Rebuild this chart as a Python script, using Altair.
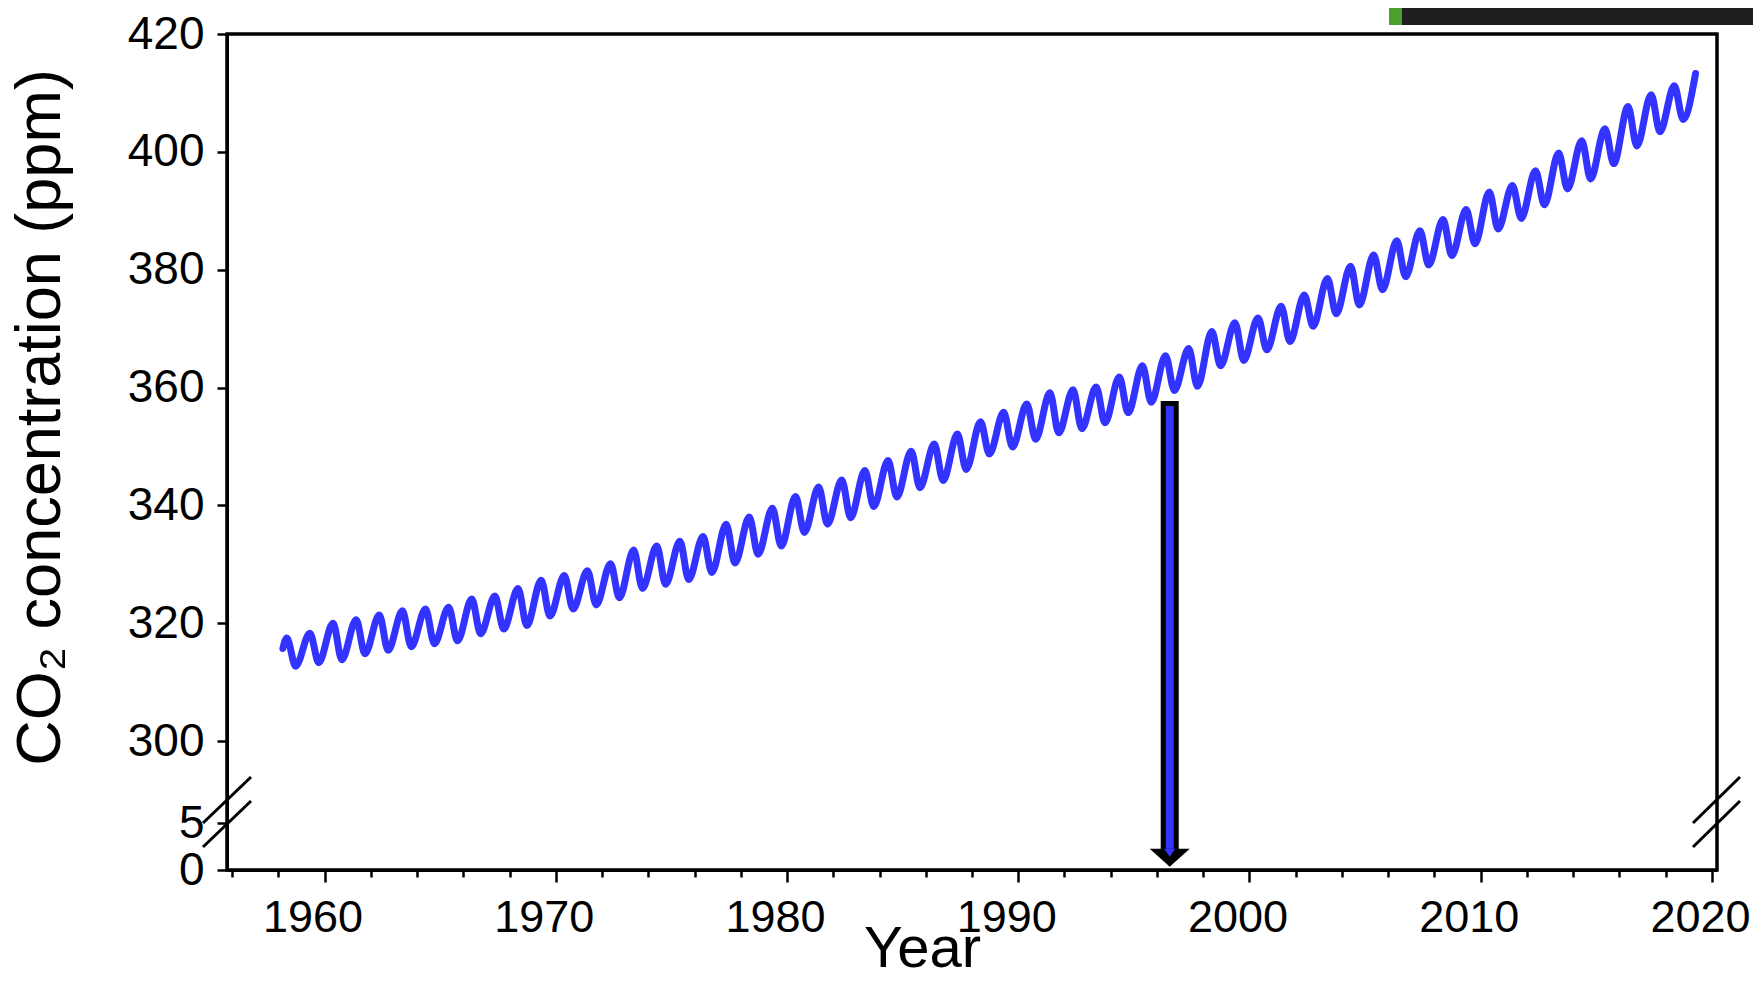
import altair as alt
import pandas as pd

# ---- data (Mauna Loa CO2, ppm) ----
years = list(range(1958, 2019))
peaks = [317.5, 318.3, 320.0, 320.6, 321.4, 322.1, 322.4, 322.7, 324.1, 324.6,
         325.9, 327.3, 328.1, 328.9, 330.1, 332.4, 333.1, 333.9, 334.7, 336.8,
         338.0, 339.5, 341.5, 343.1, 344.3, 345.9, 347.6, 349.2, 350.4, 352.1,
         354.2, 355.8, 357.2, 359.1, 359.6, 360.1, 361.8, 363.7, 365.4, 366.6,
         369.5, 371.0, 371.8, 373.8, 375.7, 378.5, 380.6, 382.5, 384.9, 386.6,
         388.5, 390.2, 393.2, 394.3, 396.8, 399.8, 401.9, 403.9, 407.7, 409.7,
         411.2]
troughs = [312.7, 313.3, 313.8, 314.8, 315.4, 316.0, 316.5, 317.0, 318.2, 319.0,
           319.6, 321.2, 322.4, 323.1, 324.3, 325.9, 326.6, 327.4, 328.6, 330.2,
           331.7, 333.1, 335.4, 336.8, 337.9, 339.8, 341.4, 343.0, 344.2, 346.1,
           348.7, 349.9, 351.2, 352.3, 353.0, 354.0, 355.7, 357.5, 359.5, 360.2,
           363.7, 364.6, 366.4, 367.8, 370.4, 372.5, 374.0, 376.6, 378.8, 380.8,
           382.4, 384.4, 386.9, 388.7, 391.0, 393.7, 395.4, 398.0, 401.0, 403.4,
           405.5]
first_point = (1958.2, 315.7)
last_point = (2019.29, 413.3)
peak_month = 0.37    # mid-May
trough_month = 0.75  # late September / October

x_ticks = list(range(1956, 2021, 2))
y_ticks = [0, 5, 300, 320, 340, 360, 380, 400, 420]

arrow_year = 1996.55
arrow_top = 357.3
arrow_bottom = 1.5
arrow_tip = 0.35

BLUE = "#3333FF"
FONT = "Liberation Sans"

rows = [first_point]
for y, p, t in zip(years, peaks, troughs):
    rows.append((y + peak_month, p))
    rows.append((y + trough_month, t))
rows.append(last_point)
df = pd.DataFrame(rows, columns=["year", "co2"])

xscale = alt.Scale(domain=[1956, 2020], nice=False, zero=False)
yscale = alt.Scale(domain=[0, 5, 300, 420], range=[836, 789, 707, 0], nice=False, zero=False)

xaxis = alt.Axis(
    values=x_ticks, format="d",
    labelExpr="datum.value % 10 === 0 ? datum.label : ''",
    labelFontSize=45, labelFont=FONT, labelColor="black", labelPadding=13,
    labelFlush=False, labelOverlap=False, labelOffset=-12,
    tickSize={"condition": {"test": "datum.value % 10 === 0", "value": 12}, "value": 7},
    tickWidth=2.5, tickColor="black", domainColor="black", domainWidth=3, grid=False,
    title="Year", titleFontSize=58, titleFont=FONT, titleFontWeight="normal", titleColor="black",
    titleX=695, titleY=96, titleAlign="center", titleBaseline="alphabetic",
)
yaxis = alt.Axis(
    values=y_ticks, format="d",
    labelFontSize=46, labelFont=FONT, labelColor="black", labelPadding=13,
    labelFlush=False, labelOverlap=False,
    tickSize=10, tickWidth=2.5, tickColor="black", domainColor="black", domainWidth=3, grid=False,
    title="CO₂ concentration (ppm)", titleFontSize=63, titleFont=FONT, titleFontWeight="normal",
    titleColor="black", titleAngle=270, titleX=-168, titleY=383, titleAlign="center",
    titleBaseline="alphabetic",
)

line = alt.Chart(df).mark_line(
    color=BLUE, strokeWidth=7, interpolate="monotone", strokeJoin="round", strokeCap="round"
).encode(
    x=alt.X("year:Q", scale=xscale, axis=xaxis),
    y=alt.Y("co2:Q", scale=yscale, axis=yaxis),
)

arrow_df = pd.DataFrame({"year": [arrow_year], "top": [arrow_top], "bottom": [arrow_bottom], "tip": [arrow_tip]})
shaft = alt.Chart(arrow_df).mark_bar(size=13, fill=BLUE, stroke="black", strokeWidth=5).encode(
    x=alt.X("year:Q", scale=xscale), y=alt.Y("top:Q", scale=yscale), y2="bottom:Q"
)
head = alt.Chart(arrow_df).mark_point(
    shape="M-1,-0.9L1,-0.9L0,0Z", size=1600, filled=True, color="black", opacity=1
).encode(x=alt.X("year:Q", scale=xscale), y=alt.Y("tip:Q", scale=yscale))
head_inner = alt.Chart(arrow_df).mark_point(
    shape="M-0.28,-0.9L0.28,-0.9L0,-0.5Z", size=1600, filled=True, color=BLUE, opacity=1
).encode(x=alt.X("year:Q", scale=xscale), y=alt.Y("tip:Q", scale=yscale))

one = pd.DataFrame({"a": [0]})


def slash(x1, y1, x2, y2):
    return alt.Chart(one).mark_rule(color="black", strokeWidth=3).encode(
        x=alt.value(x1), y=alt.value(y1), x2=alt.value(x2), y2=alt.value(y2)
    )


breaks = [
    slash(-24, 789, 24, 743), slash(-24, 813, 24, 767),
    slash(1466, 789, 1513, 743), slash(1466, 813, 1513, 767),
]

frame = alt.Chart(one).mark_rect(fill=None, stroke="black", strokeWidth=3).encode(
    x=alt.value(0), x2=alt.value(1490), y=alt.value(0), y2=alt.value(836)
)

dark_bar = alt.Chart(one).mark_rect(color="#1e1e1e").encode(
    x=alt.value(1162), x2=alt.value(1560), y=alt.value(-30), y2=alt.value(-9)
)
green_bar = alt.Chart(one).mark_rect(color="#4aa02c").encode(
    x=alt.value(1162), x2=alt.value(1175), y=alt.value(-30), y2=alt.value(-9)
)

chart = alt.layer(frame, line, shaft, head, head_inner, *breaks, dark_bar, green_bar).properties(
    width=1490, height=836,
    autosize=alt.AutoSizeParams(type="none"),
    padding={"left": 219, "top": 26, "right": 36, "bottom": 98},
).configure(font=FONT, background="white").configure_view(stroke="black", strokeWidth=3)

chart.save("out.html", embed_options={"renderer": "svg", "actions": False})
